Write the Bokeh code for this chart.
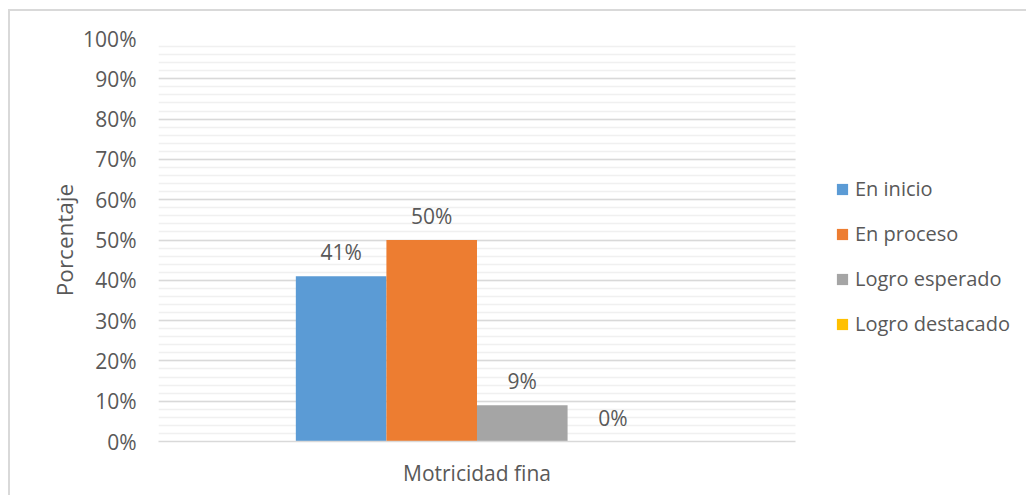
from bokeh.plotting import figure
from bokeh.models import (ColumnDataSource, LabelSet, Legend, LegendItem,
                          SingleIntervalTicker, PrintfTickFormatter, FixedTicker,
                          Range1d)
from bokeh.core.properties import value
from bokeh.embed import file_html
from bokeh.resources import INLINE

# Data
category = "Motricidad fina"
series = ["En inicio", "En proceso", "Logro esperado", "Logro destacado"]
values = [41, 50, 9, 0]
colors = ["#5B9BD5", "#ED7D31", "#A5A5A5", "#FFC000"]

FONT = "Open Sans"
TEXT = "#595959"

# The category slot spans 0..1 on x; the rest of the frame holds the legend.
cat_x = 0.5
bar_w = 0.1422
offsets = [-1.5 * bar_w, -0.5 * bar_w, 0.5 * bar_w, 1.5 * bar_w]

p = figure(width=1018, height=486, x_range=Range1d(0, 1.3658),
           y_range=Range1d(0, 100), output_backend="svg", toolbar_location=None,
           min_border_left=148, min_border_right=0, min_border_top=27,
           min_border_bottom=56, margin=(9, 0, 0, 8),
           styles={"border-top": "2px solid #d9d9d9",
                   "border-left": "2px solid #d9d9d9"})
p.outline_line_color = None
p.background_fill_color = "white"
p.border_fill_color = "white"

items = []
for name, val, col, off in zip(series, values, colors, offsets):
    src = ColumnDataSource(dict(x=[cat_x + off], val=[val], lab=[f"{val}%"]))
    r = p.vbar(x="x", top="val", width=bar_w, source=src,
               fill_color=col, line_color=None)
    p.add_layout(LabelSet(x="x", y="val", text="lab", source=src,
                          text_align="center", text_baseline="middle",
                          y_offset=24, text_font=value(FONT), text_font_size="21px",
                          text_color=TEXT))
    items.append(LegendItem(label=name, renderers=[r]))

# Y axis
p.yaxis.ticker = SingleIntervalTicker(interval=10, num_minor_ticks=5)
p.yaxis.formatter = PrintfTickFormatter(format="%d%%")
p.yaxis.axis_line_color = None
p.yaxis.major_tick_line_color = None
p.yaxis.minor_tick_line_color = None
p.yaxis.major_label_text_font = FONT
p.yaxis.major_label_text_font_size = "21px"
p.yaxis.major_label_text_color = TEXT
p.yaxis.major_label_standoff = 16
p.yaxis.axis_label = "Porcentaje"
p.yaxis.axis_label_text_font = FONT
p.yaxis.axis_label_text_font_size = "22.5px"
p.yaxis.axis_label_text_font_style = "normal"
p.yaxis.axis_label_text_color = TEXT
p.yaxis.axis_label_standoff = 0

# X axis: a single category label under the bar group
p.xaxis.ticker = FixedTicker(ticks=[cat_x])
p.xaxis.major_label_overrides = {cat_x: category}
p.xaxis.bounds = (0, 1)
p.xaxis.axis_line_color = "#d9d9d9"
p.xaxis.axis_line_width = 1.5
p.xaxis.major_tick_line_color = None
p.xaxis.minor_tick_line_color = None
p.xaxis.major_label_text_font = FONT
p.xaxis.major_label_text_font_size = "21px"
p.xaxis.major_label_text_color = TEXT
p.xaxis.major_label_standoff = 11

# Grid
p.xgrid.grid_line_color = None
p.ygrid.cross_bounds = (0, 1)
p.ygrid.grid_line_color = "#d9d9d9"
p.ygrid.grid_line_width = 1.5
p.ygrid.minor_grid_line_color = "#f0f0f0"
p.ygrid.minor_grid_line_width = 1.5

legend = Legend(items=items, location=(677, 104), orientation="vertical",
                glyph_width=14, glyph_height=14, label_height=20, spacing=18,
                label_standoff=6, padding=0, margin=0, border_line_color=None,
                background_fill_alpha=0, label_text_font=FONT,
                label_text_font_size="20px", label_text_color=TEXT)
p.add_layout(legend, "center")

open("out.html", "w").write(file_html(p, INLINE))
